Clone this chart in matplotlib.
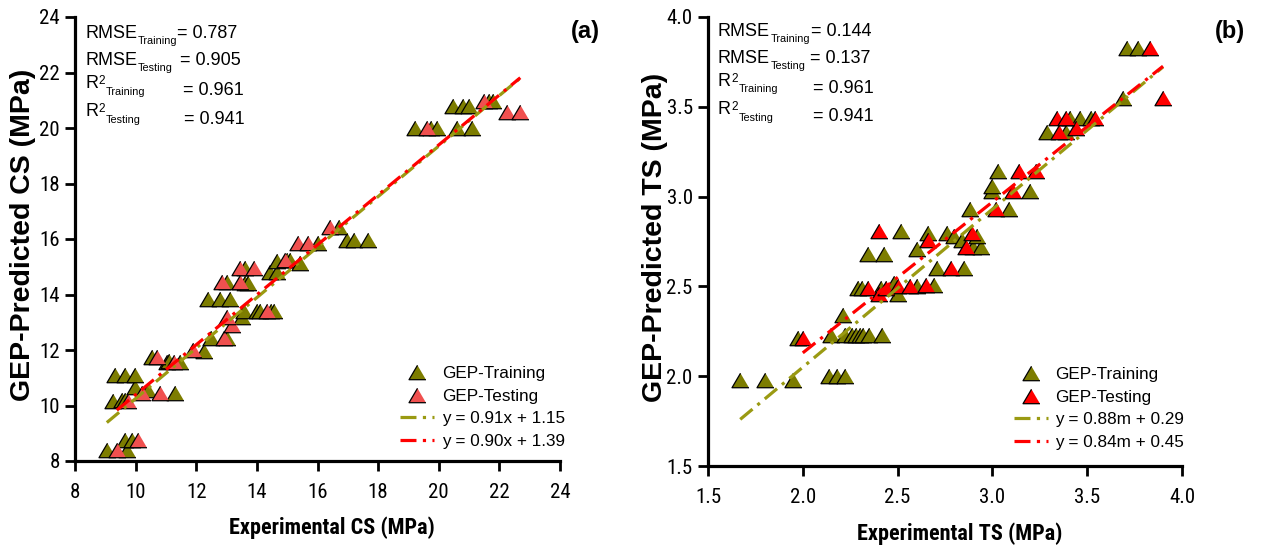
import matplotlib
matplotlib.use("Agg")
import matplotlib.pyplot as plt
from matplotlib import font_manager
from matplotlib.lines import Line2D
import numpy as np

# ---- data ----
# (a) compressive strength
cs_train_x = [9.05, 9.7, 9.65, 9.87, 9.27, 9.54, 9.65, 9.98, 10.42, 11.3, 9.32, 9.65, 9.98,
              10.53, 11.03, 11.1, 11.47, 12.24, 12.5, 13.0, 12.4, 12.79, 13.12, 13.5, 13.56,
              14.0, 14.1, 14.45, 14.55, 13.0, 13.61, 13.72, 13.6, 14.43, 14.65, 14.65, 14.98,
              15.1, 15.43, 16.03, 16.97, 17.19, 17.68, 16.7, 19.22, 19.75, 19.94, 20.6, 21.1,
              20.48, 20.8, 21.0, 21.65, 21.8]
cs_train_y = [8.4, 8.4, 8.75, 8.75, 10.15, 10.2, 10.2, 10.68, 10.56, 10.45, 11.1, 11.1, 11.1,
              11.76, 11.55, 11.6, 11.55, 11.95, 12.42, 12.42, 13.85, 13.85, 13.85, 13.2, 13.4,
              13.4, 13.4, 13.4, 13.4, 14.46, 14.4, 14.4, 14.94, 14.82, 14.82, 15.2, 15.24,
              15.24, 15.15, 15.84, 15.98, 15.98, 15.98, 16.45, 20.0, 20.0, 20.0, 20.0, 20.0,
              20.8, 20.8, 20.8, 20.98, 20.98]
cs_test_x = [9.38, 10.09, 9.76, 10.2, 10.8, 10.7, 11.25, 11.9, 12.9, 13.17, 13.0, 14.33,
             12.84, 13.45, 13.45, 13.89, 14.93, 15.37, 15.7, 16.4, 19.6, 21.5, 22.25, 22.69]
cs_test_y = [8.4, 8.75, 10.15, 10.44, 10.44, 11.76, 11.55, 12.0, 12.42, 12.9, 13.2, 13.4,
             14.46, 14.46, 14.94, 14.94, 15.24, 15.84, 15.84, 16.45, 20.0, 20.98, 20.58, 20.58]
cs_fit_train = (0.91, 1.15, 9.05, 22.69)   # slope, intercept, x from, x to
cs_fit_test = (0.90, 1.39, 9.38, 22.69)
cs_stats = ["0.787", "0.905", "0.961", "0.941"]
cs_fit_labels = ["y = 0.91x + 1.15", "y = 0.90x + 1.39"]

# (b) tensile strength
ts_train_x = [1.67, 1.8, 1.95, 2.14, 2.18, 2.22, 1.975, 2.15, 2.22, 2.26, 2.28, 2.3, 2.32,
              2.35, 2.42, 2.21, 2.29, 2.31, 2.41, 2.48, 2.5, 2.6, 2.69, 2.71, 2.85, 2.345,
              2.43, 2.6, 2.52, 2.66, 2.76, 2.8, 2.84, 2.9, 2.94, 2.92, 2.88, 3.09, 3.0, 3.2,
              3.0, 3.03, 3.29, 3.39, 3.41, 3.46, 3.52, 3.71, 3.77, 3.69]
ts_train_y = [1.98, 1.98, 1.98, 2.0, 2.0, 2.0, 2.21, 2.23, 2.23, 2.23, 2.23, 2.23, 2.23,
              2.23, 2.23, 2.34, 2.49, 2.49, 2.49, 2.52, 2.46, 2.5, 2.51, 2.6, 2.6, 2.68,
              2.68, 2.71, 2.81, 2.8, 2.8, 2.78, 2.76, 2.72, 2.72, 2.78, 2.93, 2.93, 3.03, 3.03,
              3.06, 3.14, 3.36, 3.36, 3.44, 3.44, 3.44, 3.83, 3.83, 3.55]
ts_test_x = [2.0, 2.345, 2.4, 2.44, 2.5, 2.565, 2.65, 2.78, 2.4, 2.66, 2.89, 2.86, 3.02,
             3.11, 3.14, 3.23, 3.35, 3.44, 3.34, 3.39, 3.54, 3.83, 3.9]
ts_test_y = [2.21, 2.49, 2.46, 2.49, 2.5, 2.5, 2.51, 2.6, 2.81, 2.76, 2.8, 2.72, 2.93,
             3.03, 3.14, 3.14, 3.36, 3.38, 3.44, 3.44, 3.44, 3.83, 3.55]
ts_fit_train = (0.88, 0.29, 1.67, 3.9)
ts_fit_test = (0.84, 0.45, 2.0, 3.9)
ts_stats = ["0.144", "0.137", "0.961", "0.941"]
ts_fit_labels = ["y = 0.88m + 0.29", "y = 0.84m + 0.45"]

stat_main = ["RMSE", "RMSE", "R", "R"]
stat_sub = ["Training", "Testing", "Training", "Testing"]

# ---- fonts ----
entries = font_manager.fontManager.ttflist
names = {e.name for e in entries}
regular = "Liberation Sans" if "Liberation Sans" in names else "DejaVu Sans"


def find_condensed():
    for p in ["Liberation Sans Narrow", "Arial Narrow", "Roboto Condensed",
              "Open Sans Condensed", "Noto Sans Condensed", "DejaVu Sans Condensed"]:
        if p in names:
            return {"family": p}
    for e in entries:
        if str(e.stretch) in ("condensed", "semi-condensed") and e.name in (
                "Noto Sans", "Open Sans", "Roboto", "DejaVu Sans", "Liberation Sans"):
            return {"family": e.name, "stretch": e.stretch}
    return {"family": regular}


cond = find_condensed()
plt.rcParams["font.family"] = [regular, "DejaVu Sans"]

OLIVE = "#7d7d00"
OLIVE_LINE = "#9a9a12"
TRI = [(0, 0.85), (-1, -0.85), (1, -0.85)]


def draw_panel(ax, tx, ty, vx, vy, fit_tr, fit_te, stats, fit_labels, red,
               lims, step, fmt, xlabel, ylabel, tag, tag_x, rows, val_x, leg_anchor, ylab_x):
    ax.scatter(tx, ty, marker=TRI, s=150, c=OLIVE, edgecolors="black", linewidths=0.9, zorder=3)
    ax.scatter(vx, vy, marker=TRI, s=150, c=red, edgecolors="black", linewidths=0.9, zorder=3)
    dash = (0, (5, 2, 1, 2))
    for (m, b, x0, x1), col in ((fit_tr, OLIVE_LINE), (fit_te, "red")):
        xs = np.array([x0, x1])
        ax.plot(xs, m * xs + b, color=col, lw=2.3, linestyle=dash, zorder=4)

    ax.set_xlim(*lims)
    ax.set_ylim(*lims)
    ticks = np.arange(lims[0], lims[1] + step / 2, step)
    ax.set_xticks(ticks)
    ax.set_yticks(ticks)
    ax.xaxis.set_major_formatter(plt.FormatStrFormatter(fmt))
    ax.yaxis.set_major_formatter(plt.FormatStrFormatter(fmt))
    for s in ("top", "right"):
        ax.spines[s].set_visible(False)
    for s in ("left", "bottom"):
        ax.spines[s].set_linewidth(2.3)
    ax.tick_params(direction="out", length=7, width=2, labelsize=15)
    ax.tick_params(axis="x", pad=9)
    ax.tick_params(axis="y", pad=4)
    for lab in ax.get_xticklabels() + ax.get_yticklabels():
        lab.set_family(cond["family"])
        if "stretch" in cond:
            lab.set_stretch(cond["stretch"])
    ax.set_xlabel(xlabel, fontsize=16, fontweight="bold", **cond)
    ax.xaxis.set_label_coords(0.53, -0.125)
    ax.set_ylabel(ylabel, fontsize=20.5, fontweight="bold")
    ax.yaxis.set_label_coords(ylab_x, 0.51)

    # statistics block
    for main, sub, val, (yl, yv), xv in zip(stat_main, stat_sub, stats, rows, val_x):
        t = ax.text(0.021, yl, main, transform=ax.transAxes, fontsize=13, va="baseline")
        anchor = t
        if main == "R":
            anchor = ax.annotate("2", xy=(1, 1), xycoords=t, xytext=(0.5, 0),
                                 textcoords="offset points", fontsize=8.5, va="top")
        ax.annotate(sub, xy=(1, 0), xycoords=(anchor, t), xytext=(0.3, -1.5),
                    textcoords="offset points", fontsize=7.8, va="baseline")
        ax.text(xv, yv, "= " + val, transform=ax.transAxes, fontsize=13, va="baseline")
    ax.text(tag_x, 0.968, tag, transform=ax.transAxes, fontsize=17, fontweight="bold",
            ha="right", va="center")

    handles = [
        Line2D([], [], marker=TRI, ls="none", ms=12.2, mfc=OLIVE, mec="black", mew=0.9),
        Line2D([], [], marker=TRI, ls="none", ms=12.2, mfc=red, mec="black", mew=0.9),
        Line2D([], [], color=OLIVE_LINE, lw=2.3, ls=dash),
        Line2D([], [], color="red", lw=2.3, ls=dash),
    ]
    ax.legend(handles, ["GEP-Training", "GEP-Testing"] + fit_labels, loc="lower right",
              bbox_to_anchor=leg_anchor, frameon=False, fontsize=12.3, handlelength=2.0,
              handletextpad=0.45, labelspacing=0.45, borderpad=0.2)


fig = plt.figure(figsize=(12.62, 5.45), dpi=100)
ax1 = fig.add_axes([75 / 1262, 84 / 545, 485 / 1262, 444 / 545])
ax2 = fig.add_axes([708 / 1262, 79 / 545, 474 / 1262, 449 / 545])

draw_panel(ax1, cs_train_x, cs_train_y, cs_test_x, cs_test_y, cs_fit_train, cs_fit_test,
           cs_stats, cs_fit_labels, "#f0504f", (8, 24), 2, "%d",
           "Experimental CS (MPa)", "GEP-Predicted CS (MPa)", "(a)", 1.082,
           [(0.952, 0.952), (0.893, 0.893), (0.839, 0.825), (0.776, 0.758)],
           [0.210, 0.216, 0.223, 0.225], (1.035, 0.0), -0.08)
draw_panel(ax2, ts_train_x, ts_train_y, ts_test_x, ts_test_y, ts_fit_train, ts_fit_test,
           ts_stats, ts_fit_labels, "#ff0000", (1.5, 4.0), 0.5, "%.1f",
           "Experimental TS (MPa)", "GEP-Predicted TS (MPa)", "(b)", 1.133,
           [(0.957, 0.957), (0.897, 0.897), (0.846, 0.83), (0.783, 0.768)],
           [0.217, 0.215, 0.222, 0.222], (1.03, 0.009), -0.084)

fig.savefig("out.png", dpi=100)
